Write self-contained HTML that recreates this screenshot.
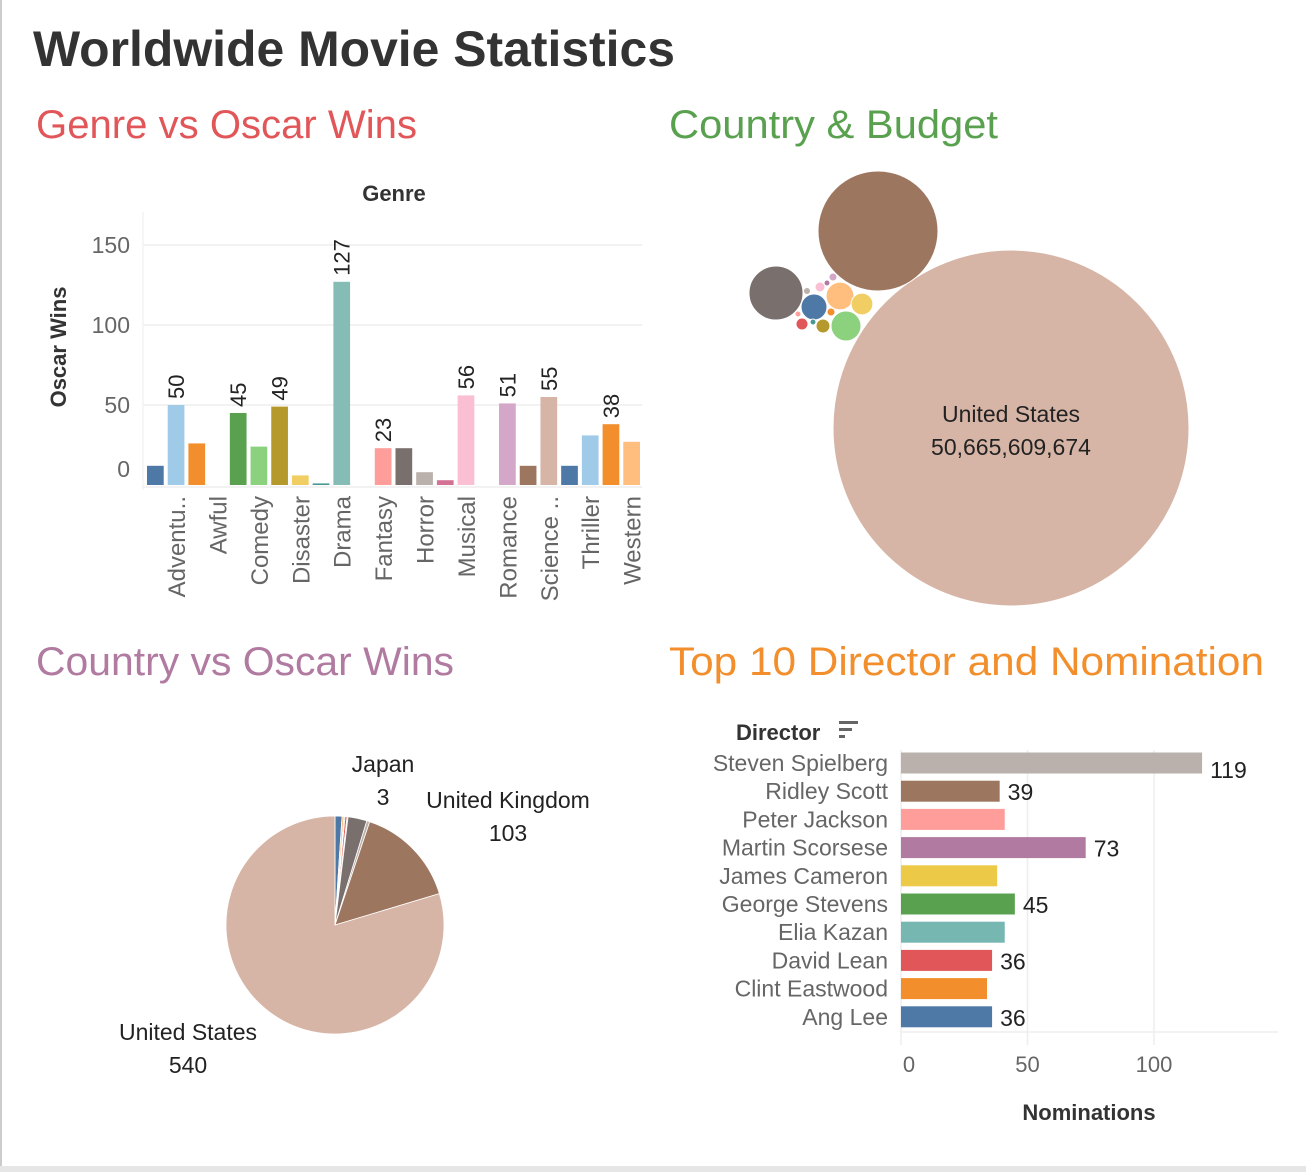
<!DOCTYPE html>
<html><head><meta charset="utf-8"><style>
html,body{margin:0;padding:0;background:#fff;width:1306px;height:1172px;overflow:hidden}
svg{display:block;font-family:"Liberation Sans",sans-serif}
</style></head><body>
<svg id="root" width="1306" height="1172" viewBox="0 0 1306 1172">
<rect x="0" y="0" width="1306" height="1172" fill="#fff"/>
<line x1="1" y1="0" x2="1" y2="1168" stroke="#ccc" stroke-width="2"/>
<rect x="0" y="1166" width="1306" height="6" fill="#e6e6e6"/>
<text x="33" y="66" font-size="50" font-weight="bold" fill="#333" textLength="642" lengthAdjust="spacingAndGlyphs">Worldwide Movie Statistics</text>
<text x="36" y="138" font-size="40" fill="#e15759" textLength="381" lengthAdjust="spacingAndGlyphs">Genre vs Oscar Wins</text>
<text x="669" y="138" font-size="40" fill="#59a14f" textLength="329" lengthAdjust="spacingAndGlyphs">Country &amp; Budget</text>
<text x="36" y="675" font-size="40" fill="#b07aa1" textLength="418" lengthAdjust="spacingAndGlyphs">Country vs Oscar Wins</text>
<text x="669" y="675" font-size="40" fill="#f28e2b" textLength="595" lengthAdjust="spacingAndGlyphs">Top 10 Director and Nomination</text>
<g id="genre"></g>
<g id="bubble"></g>
<g id="pie"></g>
<g id="dir"></g>
</svg>
<script>
// ---- Genre chart data
const genreLabels = ["Adventu..","Awful","Comedy","Disaster","Drama","Fantasy","Horror","Musical","Romance","Science ..","Thriller","Western"];
const genreBarValues = [12,50,26,0,45,24,49,6,1,127,0,23,23,8,3,56,0,51,12,55,12,31,38,27];
const genreBarColors = ["#4e79a7","#a0cbe8","#f28e2b","#ffbe7d","#59a14f","#8cd17d","#b6992d","#f1ce63","#499894","#86bcb6","#e15759","#ff9d9a","#79706e","#bab0ac","#d37295","#fabfd2","#b07aa1","#d4a6c8","#9d7660","#d7b5a6","#4e79a7","#a0cbe8","#f28e2b","#ffbe7d"];
const genreShownLabels = [1,4,6,9,11,15,17,19,22];
const genreTicks = [0,50,100,150];
// ---- Bubble data
const bubbleCountries = ["United States","United Kingdom","Germany","France","Canada","Australia","Japan","Italy","Spain","China","India","Mexico","Sweden","Brazil","Korea","Denmark"];
const bubbleBudgets = [50665609674,5760000000,1166000000,270000000,360000000,310000000,190000000,78000000,58000000,40000000,26000000,14000000,20000000,14000000,26000000,14000000];
const bubbleColors = ["#d7b5a6","#9d7660","#79706e","#4e79a7","#8cd17d","#ffbe7d","#f1ce63","#b6992d","#e15759","#fabfd2","#d4a6c8","#b07aa1","#bab0ac","#ff9d9a","#f28e2b","#499894"];
// ---- Pie data
const pieCountries = ["Other A","Other B","Other C","Other D","Other E","Germany","Japan","United Kingdom","United States"];
const pieValues = [7,2,1,2,1,19,3,103,540];
const pieColors = ["#4e79a7","#ffbe7d","#59a14f","#e15759","#ff9d9a","#79706e","#bab0ac","#9d7660","#d7b5a6"];
// ---- Director data
const directors = ["Steven Spielberg","Ridley Scott","Peter Jackson","Martin Scorsese","James Cameron","George Stevens","Elia Kazan","David Lean","Clint Eastwood","Ang Lee"];
const nominations = [119,39,41,73,38,45,41,36,34,36];
const dirColors = ["#bab0ac","#9d7660","#ff9d9a","#b07aa1","#edc948","#59a14f","#76b7b2","#e15759","#f28e2b","#4e79a7"];
const dirShowValue = [true,true,false,true,false,true,false,true,false,true];
const dirTicks = [0,50,100];

const NS="http://www.w3.org/2000/svg";
function mk(tag,attrs,parent,txt){const e=document.createElementNS(NS,tag);for(const k in attrs)e.setAttribute(k,attrs[k]);if(txt!==undefined)e.textContent=txt;parent.appendChild(e);return e;}

// Genre
(function(){
const g=document.getElementById('genre');
const x0=145,x1=642,y0=485,slot=(x1-x0)/genreBarValues.length;
const y=v=>y0-v*1.6;
const t=mk('text',{x:394,y:201,'font-size':22,'font-weight':'bold',fill:'#333','text-anchor':'middle'},g,'Genre');


const yt=mk('text',{x:0,y:0,'font-size':22,'font-weight':'bold',fill:'#333','text-anchor':'middle',transform:'translate(66,347) rotate(-90)'},g,'Oscar Wins');


mk('line',{x1:143,y1:212,x2:143,y2:490,stroke:'#eee'},g);
genreTicks.forEach(v=>{
  if(v>0) mk('line',{x1:143,y1:y(v),x2:642,y2:y(v),stroke:'#eee','stroke-width':1.5},g);
  const l=mk('text',{x:130,y:(v===0?y(v)-8:y(v)+8),'font-size':23,fill:'#666','text-anchor':'end'},g,String(v));
  
  
});
mk('line',{x1:143,y1:y0+2,x2:642,y2:y0+2,stroke:'#eee','stroke-width':1.5},g);
genreBarValues.forEach((v,i)=>{
  const bx=x0+i*slot+2;
  if(v>0){
    const r=mk('rect',{x:bx,y:y(v),width:slot-4,height:v*1.6,fill:genreBarColors[i]},g);
    
    
  }
  if(genreShownLabels.includes(i)){
    const cx=x0+(i+0.5)*slot+8, cy=y(v)-6;
    const l=mk('text',{x:0,y:0,'font-size':22,fill:'#222',transform:`translate(${cx},${cy}) rotate(-90)`},g,String(v));
    
    
  }
});
genreLabels.forEach((c,j)=>{
  const cx=x0+(2*j+1.5)*slot+9;
  const l=mk('text',{x:0,y:0,'font-size':24,fill:'#666','text-anchor':'end',transform:`translate(${cx},496) rotate(-90)`},g,c);
  
  
});
})();

// Bubble
(function(){
const g=document.getElementById('bubble');
const k=178/Math.sqrt(bubbleBudgets[0]);
const pos=[[1011,428],[878,231],[776,293],[814,307],[846,326],[840,296],[862,304],[823,326],[802,324],[820,287],[833,277],[827,283],[807,291],[798,314],[831,312],[813,322]];
bubbleBudgets.forEach((b,i)=>{
  const c=mk('circle',{cx:pos[i][0],cy:pos[i][1],r:Math.max(2,k*Math.sqrt(b)),fill:bubbleColors[i],stroke:'#fff','stroke-width':1},g);
  
  
});
const t1=mk('text',{x:1011,y:422,'font-size':23,fill:'#222','text-anchor':'middle'},g,bubbleCountries[0]);


const t2=mk('text',{x:1011,y:455,'font-size':23,fill:'#222','text-anchor':'middle'},g,bubbleBudgets[0].toLocaleString('en-US'));


})();

// Pie
(function(){
const g=document.getElementById('pie');
const cx=335,cy=925,R=109;
const tot=pieValues.reduce((a,b)=>a+b,0);
let a=0;
pieValues.forEach((v,i)=>{
  const a0=a, a1=a+v/tot*2*Math.PI; a=a1;
  const p0=[cx+R*Math.sin(a0),cy-R*Math.cos(a0)],p1=[cx+R*Math.sin(a1),cy-R*Math.cos(a1)];
  const large=(a1-a0)>Math.PI?1:0;
  const p=mk('path',{d:`M${cx},${cy}L${p0[0]},${p0[1]}A${R},${R} 0 ${large} 1 ${p1[0]},${p1[1]}Z`,fill:pieColors[i],stroke:'#fff','stroke-width':0.8},g);
  
  
});
const labels=[[383,772,'Japan'],[383,805,String(pieValues[6])],[508,808,'United Kingdom'],[508,841,String(pieValues[7])],[188,1040,'United States'],[188,1073,String(pieValues[8])]];
labels.forEach(l=>{
  const t=mk('text',{x:l[0],y:l[1],'font-size':23,fill:'#222','text-anchor':'middle'},g,l[2]);
  
  
});
})();

// Director
(function(){
const g=document.getElementById('dir');
const x0=901,s=2.53,rowY=763,step=28.2,h=21;
const x=v=>x0+v*s;
const t=mk('text',{x:736,y:740,'font-size':22,'font-weight':'bold',fill:'#333'},g,'Director');


const si=mk('g',{},g);


mk('rect',{x:839,y:721,width:19,height:3,fill:'#666'},si);
mk('rect',{x:839,y:728,width:13,height:3,fill:'#666'},si);
mk('rect',{x:839,y:735,width:6,height:3,fill:'#666'},si);
dirTicks.forEach(v=>{
  mk('line',{x1:x(v),y1:750,x2:x(v),y2:1045,stroke:'#eee','stroke-width':1.5},g);
  const l=mk('text',{x:x(v)+(v===0?8:0),y:1072,'font-size':22,fill:'#666','text-anchor':'middle'},g,String(v));
  
  
});
mk('line',{x1:x0,y1:1032,x2:1278,y2:1032,stroke:'#eee','stroke-width':1.5},g);
const xt=mk('text',{x:1089,y:1120,'font-size':22,'font-weight':'bold',fill:'#333','text-anchor':'middle'},g,'Nominations');


directors.forEach((d,i)=>{
  const cy=rowY+i*step;
  const l=mk('text',{x:888,y:cy+8,'font-size':23,fill:'#666','text-anchor':'end'},g,d);
  
  
  const r=mk('rect',{x:x0,y:cy-h/2,width:nominations[i]*s,height:h,fill:dirColors[i]},g);
  
  
  if(dirShowValue[i]){
    const v=mk('text',{x:x(nominations[i])+8,y:cy+(i===0?15:9),'font-size':23,fill:'#222'},g,String(nominations[i]));
    
    
  }
});
})();
</script>
</body></html>
